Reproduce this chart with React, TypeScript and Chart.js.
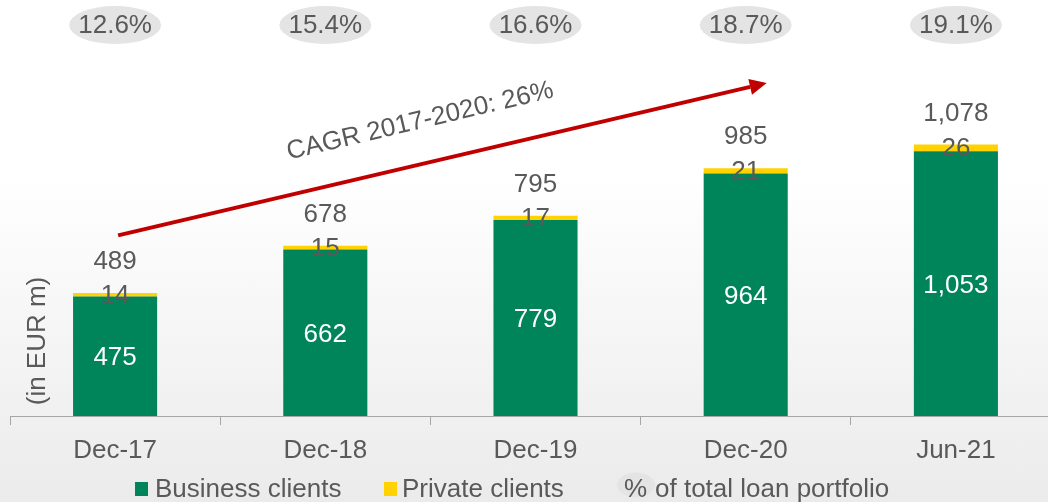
import React, { useEffect, useRef } from "react";
import { Chart, registerables } from "chart.js";

Chart.register(...registerables);

const categories = ["Dec-17", "Dec-18", "Dec-19", "Dec-20", "Jun-21"];
const businessClients = [475, 662, 779, 964, 1053];
const privateClients = [14, 15, 17, 21, 26];
const totals = [489, 678, 795, 985, 1078];
const loanSharePct = ["12.6%", "15.4%", "16.6%", "18.7%", "19.1%"];
const cagrLabel = "CAGR 2017-2020: 26%";
const axisTitle = "(in EUR m)";
const legendLabels = ["Business clients", "Private clients", "of total loan portfolio"];
// arrow anchor values (in EUR m) on the value axis
const arrowStartValue = 718;
const arrowEndValue = 1324;

const FONT = '"Liberation Sans", Arial, sans-serif';
const GREEN = "#00855a";
const YELLOW = "#ffd200";
const TEXT = "#595959";
const RED = "#c00000";
const BUBBLE = "#e4e4e4";

const fmt = (v: number) => v.toLocaleString("en-US");

const overlayPlugin = {
  id: "overlay",
  afterDatasetsDraw(chart: any) {
    const ctx: CanvasRenderingContext2D = chart.ctx;
    const m0 = chart.getDatasetMeta(0);
    const m1 = chart.getDatasetMeta(1);
    const xs = chart.scales.x;
    const ys = chart.scales.y;
    ctx.save();
    ctx.font = `26px ${FONT}`;
    ctx.textAlign = "center";
    ctx.textBaseline = "middle";

    m0.data.forEach((el: any, i: number) => {
      ctx.fillStyle = "#ffffff";
      ctx.fillText(fmt(businessClients[i]), el.x, (el.y + el.base) / 2 + 2);
    });
    m1.data.forEach((el: any, i: number) => {
      ctx.fillStyle = TEXT;
      ctx.fillText(fmt(privateClients[i]), el.x, (el.y + el.base) / 2 + 1);
      ctx.fillText(fmt(totals[i]), el.x, el.y - 31);
      // percentage bubbles
      ctx.fillStyle = BUBBLE;
      ctx.beginPath();
      ctx.ellipse(el.x, 25, 46, 19, 0, 0, Math.PI * 2);
      ctx.fill();
      ctx.fillStyle = TEXT;
      ctx.fillText(loanSharePct[i], el.x, 26);
    });

    // CAGR arrow
    const x0 = xs.getPixelForValue(0) + 3;
    const y0 = ys.getPixelForValue(arrowStartValue);
    const x1 = xs.getPixelForValue(3) + 21;
    const y1 = ys.getPixelForValue(arrowEndValue);
    const ang = Math.atan2(y1 - y0, x1 - x0);
    const headLen = 17;
    const headW = 8;
    const bx = x1 - headLen * Math.cos(ang);
    const by = y1 - headLen * Math.sin(ang);
    ctx.strokeStyle = RED;
    ctx.lineWidth = 4;
    ctx.beginPath();
    ctx.moveTo(x0, y0);
    ctx.lineTo(bx, by);
    ctx.stroke();
    ctx.fillStyle = RED;
    ctx.beginPath();
    ctx.moveTo(x1, y1);
    ctx.lineTo(bx + headW * Math.sin(ang), by - headW * Math.cos(ang));
    ctx.lineTo(bx - headW * Math.sin(ang), by + headW * Math.cos(ang));
    ctx.closePath();
    ctx.fill();

    // CAGR text
    const dx = Math.cos(ang), dy = Math.sin(ang);
    const px = dy, py = -dx; // perpendicular (upwards)
    const mx = (x0 + x1) / 2, my = (y0 + y1) / 2;
    const tx = mx + px * 42 - dx * 13;
    const ty = my + py * 42 - dy * 13;
    ctx.save();
    ctx.translate(tx, ty);
    ctx.rotate(ang);
    ctx.font = `26px ${FONT}`;
    ctx.fillStyle = TEXT;
    ctx.fillText(cagrLabel, 0, 0);
    ctx.restore();

    // axis title
    ctx.save();
    ctx.translate(38, 341);
    ctx.rotate(-Math.PI / 2);
    ctx.font = `26px ${FONT}`;
    ctx.fillStyle = TEXT;
    ctx.fillText(axisTitle, 0, 0);
    ctx.restore();

    // legend
    const ly = 489;
    ctx.font = `26px ${FONT}`;
    ctx.textAlign = "left";
    ctx.fillStyle = GREEN;
    ctx.fillRect(135, ly - 7, 13, 14);
    ctx.fillStyle = TEXT;
    ctx.fillText(legendLabels[0], 155, ly + 1);
    ctx.fillStyle = YELLOW;
    ctx.fillRect(384, ly - 7, 13, 14);
    ctx.fillStyle = TEXT;
    ctx.fillText(legendLabels[1], 402, ly + 1);
    ctx.fillStyle = BUBBLE;
    ctx.beginPath();
    ctx.ellipse(636, ly - 4, 19, 12.5, 0, 0, Math.PI * 2);
    ctx.fill();
    ctx.fillStyle = TEXT;
    ctx.fillText("%", 624, ly + 1);
    ctx.fillText(legendLabels[2], 655, ly + 1);
    ctx.restore();
  },
};

export default function App() {
  const ref = useRef<HTMLCanvasElement | null>(null);
  useEffect(() => {
    if (!ref.current) return;
    const chart = new Chart(ref.current, {
      type: "bar",
      data: {
        labels: categories,
        datasets: [
          { label: "Business clients", data: businessClients, backgroundColor: GREEN, barPercentage: 0.4, categoryPercentage: 1 },
          { label: "Private clients", data: privateClients, backgroundColor: YELLOW, barPercentage: 0.4, categoryPercentage: 1 },
        ],
      },
      options: {
        responsive: false,
        animation: false,
        layout: { padding: { left: 10, right: 1, top: 0, bottom: 0 } },
        plugins: { legend: { display: false }, tooltip: { enabled: false } },
        scales: {
          x: {
            stacked: true,
            offset: true,
            grid: { display: true, offset: true, drawOnChartArea: false, drawTicks: true, tickLength: 9, color: "#a6a6a6", lineWidth: 1 },
            border: { display: true, color: "#a6a6a6", width: 1 },
            ticks: { color: TEXT, font: { family: FONT, size: 26 }, padding: 10, maxRotation: 0, autoSkip: false },
            afterFit: (s: any) => { s.height = 86; },
          },
          y: { stacked: true, display: false, min: 0, max: 1654 },
        },
      },
      plugins: [overlayPlugin],
    });
    return () => chart.destroy();
  }, []);
  return (
    <div
      style={{
        position: "fixed",
        left: 0,
        top: 0,
        width: 1048,
        height: 502,
        overflow: "hidden",
        background: "linear-gradient(to bottom, #ffffff 0%, #ffffff 35%, #ebebeb 100%)",
      }}
    >
      <canvas ref={ref} width={1062} height={502} style={{ display: "block" }} />
    </div>
  );
}
